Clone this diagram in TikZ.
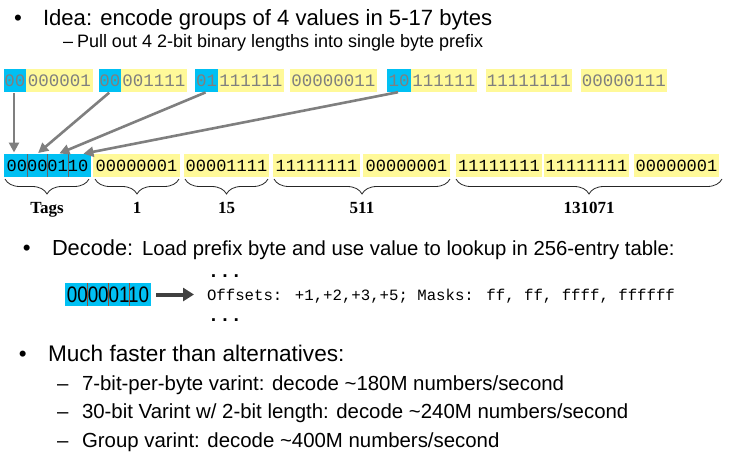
\documentclass[tikz,border=0pt]{standalone}
\usepackage{graphicx}
\usepackage{fontspec}
\setmainfont{Liberation Sans}
\newfontfamily\monof{Liberation Mono}
\newfontfamily\seriff{Liberation Serif}
\usetikzlibrary{arrows.meta,decorations.pathreplacing,calc}
\definecolor{bbox}{RGB}{0,192,243}
\definecolor{ybox}{RGB}{255,249,153}
\definecolor{tgray}{RGB}{127,127,127}
\definecolor{agray}{RGB}{127,127,127}
\definecolor{dgray}{RGB}{64,64,64}
\definecolor{divbrown}{RGB}{150,80,50}
\newcommand\topfnt{\monof\fontsize{17.5}{20}\selectfont}
\newcommand\botfnt{\monof\fontsize{17}{20}\selectfont}
\begin{document}
\begin{tikzpicture}[x=1pt,y=-1pt,
  txt/.style={anchor=base west, inner sep=0, outer sep=0},
  cell/.style={inner sep=0, outer sep=0, minimum height=23, anchor=west},
  tb/.style={cell, fill=bbox, text=tgray, font=\topfnt},
  ty/.style={cell, fill=ybox, text=tgray, font=\topfnt},
  bb/.style={cell, fill=bbox, text=black, font=\botfnt},
  by/.style={cell, fill=ybox, text=black, font=\botfnt},
  lab/.style={anchor=base, inner sep=0, font=\seriff\bfseries\fontsize{17}{20}\selectfont},
  brc/.style={decorate, decoration={brace, mirror, amplitude=15}, draw=black!85, line width=0.8},
  arr/.style={draw=agray, line width=2.6, -{Triangle[length=10,width=10]}, shorten >=1.5, shorten <=1},
  darr/.style={draw=dgray, line width=4, -{Triangle[length=11,width=13]}, shorten >=13},
  tagdiv/.style={draw=black!60, line width=0.7},
  decdiv/.style={draw=divbrown, line width=0.7},
  lvA/.style={txt, font=\fontsize{22.3}{26}\selectfont},
  lvB/.style={txt, font=\fontsize{20.4}{24}\selectfont},
  dots/.style={anchor=base, inner sep=0, font=\monof\bfseries\fontsize{19}{20}\selectfont}
]
\useasboundingbox (0,0) rectangle (731,453);

% heading
\node[lvA] (bul1) at (14,25) {•};
\node[txt, font=\fontsize{22.1}{26}\selectfont] (idea) at (43,25) {Idea: encode groups of 4 values in 5-17 bytes};
\node[txt, font=\fontsize{18}{22}\selectfont] (dash0) at (63,47) {–};
\node[txt, font=\fontsize{18}{22}\selectfont] (pull) at (77,47) {Pull out 4 2-bit binary lengths into single byte prefix};

% top row
\node[tb, minimum width=22] (t1b) at (4,80.5) {00};
\node[ty, minimum width=67] (t1y) at (26,80.5) {000001};
\node[tb, minimum width=22] (t2b) at (99,80.5) {00};
\node[ty, minimum width=66] (t2y) at (121,80.5) {001111};
\node[tb, minimum width=23] (t3b) at (195,80.5) {01};
\node[ty, minimum width=66] (t3y) at (218,80.5) {111111};
\node[ty, minimum width=87] (t4y) at (290,80.5) {00000011};
\node[tb, minimum width=24] (t5b) at (387,80.5) {10};
\node[ty, minimum width=66] (t5y) at (411,80.5) {111111};
\node[ty, minimum width=86] (t6y) at (486,80.5) {11111111};
\node[ty, minimum width=86] (t7y) at (581,80.5) {00000111};

% bottom row
\node[bb, minimum width=87] (tags) at (4,165.5) {00000110};
\draw[tagdiv] (27,154) -- (27,177);
\draw[tagdiv] (47.5,154) -- (47.5,177);
\draw[tagdiv] (68,154) -- (68,177);
\node[by, minimum width=87] (v1) at (93,165.5) {00000001};
\node[by, minimum width=85] (v2) at (184,165.5) {00001111};
\node[by, minimum width=87] (v3) at (273,165.5) {11111111};
\node[by, minimum width=87] (v4) at (363,165.5) {00000001};
\node[by, minimum width=86] (v5) at (456,165.5) {11111111};
\node[by, minimum width=85] (v6) at (544,165.5) {11111111};
\node[by, minimum width=85] (v7) at (634,165.5) {00000001};

% arrows into tag byte
\coordinate (g1) at (14,154);
\coordinate (g2) at (37,154);
\coordinate (g3) at (58,154);
\coordinate (g4) at (82,154);
\draw[arr] (t1b.south -| g1) -- (g1);
\draw[arr] (t2b.south) -- (g2);
\draw[arr] (t3b.south) -- (g3);
\draw[arr] (t5b.south) -- (g4);

% braces and labels
\draw[brc] (5,179) -- (89,179);
\draw[brc] (95,179) -- (179,179);
\draw[brc] (185,179) -- (268,179);
\draw[brc] (274,179) -- (450,179);
\draw[brc] (456,179) -- (722,179);
\node[lab] (lt) at (47,213) {Tags};
\node[lab] (l1) at (137,213) {1};
\node[lab] (l2) at (226.5,213) {15};
\node[lab] (l3) at (362,213) {511};
\node[lab] (l4) at (589,213) {131071};

% decode
\node[lvA] (bul2) at (23,255) {•};
\node[txt, font=\fontsize{21.8}{26}\selectfont] (dec) at (52,255) {Decode:};
\node[txt, font=\fontsize{20.3}{24}\selectfont] (load) at (142,255) {Load prefix byte and use value to lookup in 256-entry table:};
\node[cell, fill=bbox, minimum width=86, font=\fontsize{22.4}{26}\selectfont] (dbox) at (65,294.5) {\scalebox{0.84}[1]{00000110}};
\draw[decdiv] (87.6,283) -- (87.6,306);
\draw[decdiv] (108.5,283) -- (108.5,306);
\draw[decdiv] (129.4,283) -- (129.4,306);
\node[txt, font=\monof\fontsize{15.7}{20}\selectfont] (offs) at (207,300) {Offsets: +1,+2,+3,+5; Masks: ff, ff, ffff, ffffff};
\draw[darr] (dbox.east) ++(5,0) coordinate (da) (da) -- (da -| offs.west);
\node[dots] (dt1) at (225,277) {...};
\node[dots] (dt2) at (225,321) {...};

% bottom list
\node[lvA] (bul3) at (19,361) {•};
\node[txt, font=\fontsize{22.6}{26}\selectfont] (much) at (48,361) {Much faster than alternatives:};
\node[lvB] (dA) at (57,390) {–};
\node[lvB] (iA) at (82,390) {7-bit-per-byte varint: decode \textasciitilde180M numbers/second};
\node[lvB] (dB) at (57,418) {–};
\node[lvB] (iB) at (82,418) {30-bit Varint w/ 2-bit length: decode \textasciitilde240M numbers/second};
\node[lvB] (dC) at (57,447) {–};
\node[lvB] (iC) at (82,447) {Group varint: decode \textasciitilde400M numbers/second};
\end{tikzpicture}
\end{document}
